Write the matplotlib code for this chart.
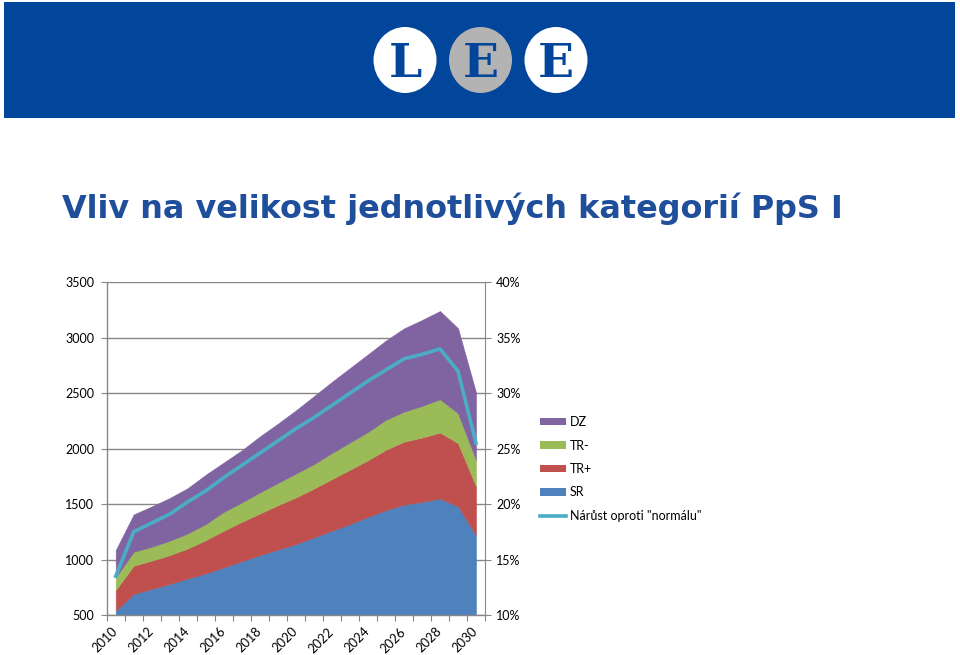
import matplotlib
matplotlib.use('Agg')
import matplotlib.pyplot as plt
from matplotlib.patches import Rectangle, Ellipse, Patch
from matplotlib.lines import Line2D
from matplotlib.ticker import FixedLocator, FuncFormatter

# ---------------- data ----------------
years = list(range(2010, 2031))
sr  = [540, 690, 735, 780, 830, 875, 930, 985, 1040, 1090, 1140, 1200, 1260, 1320, 1385, 1445, 1495, 1520, 1550, 1480, 1220]
trp = [185, 255, 255, 260, 270, 300, 330, 355, 375, 400, 420, 440, 465, 490, 510, 545, 568, 580, 595, 570, 440]
trm = [115, 125, 125, 130, 135, 145, 170, 175, 190, 200, 215, 220, 235, 245, 255, 270, 270, 285, 300, 270, 240]
dz  = [245, 337, 364, 385, 409, 445, 445, 470, 505, 535, 570, 613, 642, 671, 700, 715, 751, 775, 796, 766, 607]
growth_pct = [13.5, 17.5, 18.3, 19.1, 20.2, 21.2, 22.4, 23.5, 24.6, 25.7, 26.8, 27.8, 28.9, 30.0, 31.1, 32.1, 33.1, 33.5, 34.0, 32.0, 25.5]

series_names = ['SR', 'TR+', 'TR-', 'DZ']
line_name = 'Nárůst oproti "normálu"'
left_ticks = [500, 1000, 1500, 2000, 2500, 3000, 3500]
right_ticks = [10, 15, 20, 25, 30, 35, 40]
x_label_years = [2010, 2012, 2014, 2016, 2018, 2020, 2022, 2024, 2026, 2028, 2030]
title = 'Vliv na velikost jednotlivých kategorií PpS I'
logo_letters = ['L', 'E', 'E']

colors = ['#4F81BD', '#C0504D', '#9BBB59', '#8064A2']
line_color = '#4BACC6'
grid_color = '#878787'
band_color = '#02469B'

W, H = 960, 655
plt.rcParams['font.family'] = ['Lato', 'DejaVu Sans']
fig = plt.figure(figsize=(W / 100, H / 100), dpi=100)

def fx(x):
    return x / W

def fy(y):
    return 1 - y / H

# ---------------- header band with logo ----------------
fig.patches.append(Rectangle((fx(4), fy(118)), (955 - 4) / W, (118 - 2) / H,
                             transform=fig.transFigure, facecolor=band_color,
                             edgecolor='none', zorder=0))
logo_cx = [405, 480.5, 556]
logo_fc = ['white', '#B3B3B3', 'white']
for cx, fc, letter in zip(logo_cx, logo_fc, logo_letters):
    fig.patches.append(Ellipse((fx(cx), fy(60)), 63 / W, 66 / H,
                               transform=fig.transFigure, facecolor=fc,
                               edgecolor='none', zorder=1))
    fig.text(fx(cx), fy(77), letter, ha='center', va='baseline',
             fontsize=34, fontweight='bold', family='DejaVu Serif',
             color=band_color, zorder=2)

# ---------------- title ----------------
t = fig.text(fx(62), fy(218), title, ha='left', va='baseline',
             fontsize=27, fontweight='bold', family='DejaVu Sans',
             color='#1F4E9B')
fig.canvas.draw()
bb = t.get_window_extent()
t.set_fontsize(27 * 780 / bb.width)

# ---------------- chart ----------------
ax = fig.add_axes([fx(106.7), fy(615), (485 - 106.7) / W, (615 - 282.3) / H])
xs = list(range(len(years)))
polys = ax.stackplot(xs, sr, trp, trm, dz, colors=colors)
for p, c in zip(polys, colors):
    p.set_edgecolor(c)
    p.set_linewidth(0.4)
ax.set_xlim(-0.5, len(years) - 0.5)
ax.set_ylim(left_ticks[0], left_ticks[-1])
ax.set_yticks(left_ticks)
ax.yaxis.grid(True, color=grid_color, linewidth=1.0)
ax.set_axisbelow(True)

# x axis: tick marks between categories, labels on every other year
ax.xaxis.set_major_locator(FixedLocator([i - 0.5 for i in range(len(years) + 1)]))
ax.xaxis.set_major_formatter(FuncFormatter(lambda v, p: ''))
lab_pos = [years.index(y) for y in x_label_years]
ax.xaxis.set_minor_locator(FixedLocator(lab_pos))
ax.xaxis.set_minor_formatter(FuncFormatter(lambda v, p: str(years[int(round(v))])))
ax.tick_params(axis='x', which='major', direction='out', length=4, color=grid_color)
ax.tick_params(axis='x', which='minor', length=0, pad=10.5, labelsize=9.2)
for lbl in ax.get_xticklabels(minor=True):
    lbl.set_rotation(45)
    lbl.set_rotation_mode('anchor')
    lbl.set_ha('right')
    lbl.set_va('center')
ax.tick_params(axis='y', direction='out', length=4, color=grid_color, labelsize=9, pad=5)

for s in ['top', 'right']:
    ax.spines[s].set_visible(False)
for s in ['left', 'bottom']:
    ax.spines[s].set_color(grid_color)
    ax.spines[s].set_linewidth(1.0)

ax2 = ax.twinx()
ax2.plot(xs, growth_pct, color=line_color, linewidth=2.6, solid_joinstyle='round')
ax2.set_ylim(right_ticks[0], right_ticks[-1])
ax2.set_yticks(right_ticks)
ax2.yaxis.set_major_formatter(FuncFormatter(lambda v, p: f'{int(v)}%'))
ax2.tick_params(axis='y', direction='out', length=4, color=grid_color, labelsize=9, pad=4)
for s in ['top', 'left', 'bottom']:
    ax2.spines[s].set_visible(False)
ax2.spines['right'].set_color(grid_color)

# ---------------- legend ----------------
handles = [Patch(facecolor=c, edgecolor='none') for c in colors[::-1]]
handles.append(Line2D([0], [0], color=line_color, linewidth=2.6))
labels = series_names[::-1] + [line_name]
fig.legend(handles, labels, loc='upper left', bbox_to_anchor=(fx(540), fy(416)),
           frameon=False, fontsize=9, handlelength=2.1, handleheight=0.55,
           labelspacing=0.92, handletextpad=0.3, borderaxespad=0, borderpad=0)

fig.savefig('out.png', dpi=100)
